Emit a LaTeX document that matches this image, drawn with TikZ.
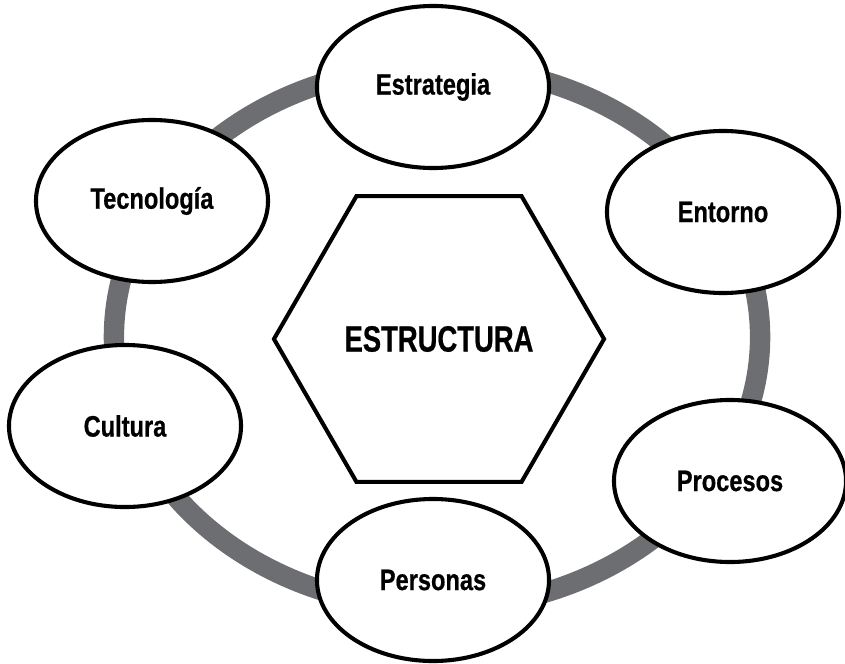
\documentclass[tikz,border=0pt]{standalone}
\usepackage{fontspec}
\setmainfont{Liberation Sans}[FakeStretch=0.80,BoldFeatures={FakeBold=0.6}]
\newfontfamily\hexfont{Liberation Sans}[FakeStretch=0.75,BoldFeatures={FakeBold=0.6}]
\usetikzlibrary{shapes.geometric}
\definecolor{ringgray}{RGB}{109,110,113}
\tikzset{
  elip/.style={ellipse,draw=black,line width=2.9pt,fill=white,minimum width=5.8cm,minimum height=4.05cm,inner sep=0pt,font=\fontsize{21}{25}\selectfont\bfseries},
  hexa/.style={regular polygon,regular polygon sides=6,draw=black,line width=2.9pt,fill=white,minimum size=8.25cm,inner sep=0pt,font=\hexfont\fontsize{26}{30}\selectfont\bfseries},
  ringline/.style={draw=ringgray,line width=14.5pt}
}
\begin{document}
\begin{tikzpicture}[x=0.025cm,y=-0.025cm]
\useasboundingbox (0,0) rectangle (845,663);
\coordinate (ctr) at (437,337);
\draw[ringline] (ctr) ellipse [x radius=8.075cm,y radius=6.775cm];
\node[hexa] (estr) at (439,339) {ESTRUCTURA};
\foreach \nm/\kx/\ky/\lb in {estrat/433/87/Estrategia,ent/723/212/Entorno,proc/730/481/Procesos,pers/433/580/Personas,cult/125/426/Cultura,tec/152/201/Tecnología}{\node[elip] (\nm) at (\kx,\ky) {\lb};}
\end{tikzpicture}
\end{document}
